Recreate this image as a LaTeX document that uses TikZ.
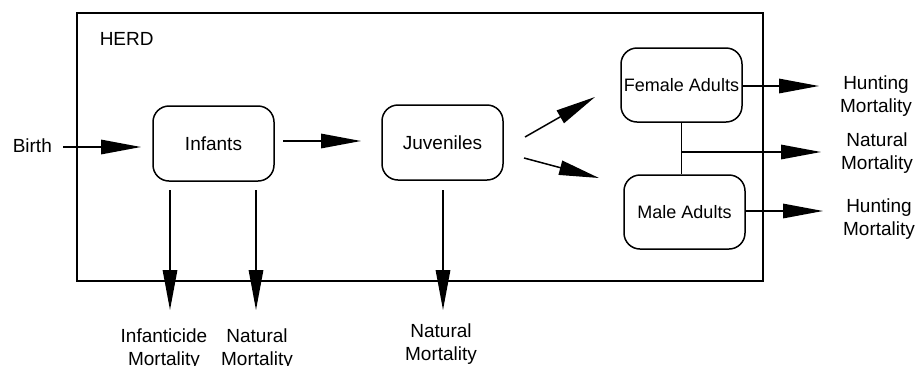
\documentclass[tikz,border=0pt]{standalone}
\usepackage{fontspec}
\setmainfont{Liberation Sans}
\usetikzlibrary{arrows.meta}
\begin{document}
\begin{tikzpicture}[x=1pt,y=-1pt,line width=1.5pt,
  box/.style={draw,rounded corners=16pt,minimum width=121pt,minimum height=75pt,inner sep=0pt,font=\fontsize{19}{22}\selectfont},
  abox/.style={box,minimum height=74pt,font=\fontsize{18}{22}\selectfont},
  lbl/.style={align=center,inner sep=0pt,anchor=north,font=\fontsize{19}{23}\selectfont},
  arr/.style={-{Triangle[length=40pt,width=14.5pt]}}]
\useasboundingbox (0,0) rectangle (917,365);
% herd frame
\draw (77,13) rectangle (763,281);
\node[inner sep=0pt,anchor=north west,font=\fontsize{19}{22}\selectfont] (herd) at (99,31.5) {HERD};
% compartments
\node[box] (infants) at (213.5,143.5) {Infants};
\node[box] (juveniles) at (442.5,142.5) {Juveniles};
\node[abox] (female) at (681.5,85) {Female Adults};
\node[abox] (male) at (684.5,212) {Male Adults};
% labels
\node[inner sep=0pt,anchor=north west,font=\fontsize{19}{22}\selectfont] (birth) at (12,137.5) {Birth};
\node[lbl] (infmort) at (164,327.5) {Infanticide\\Mortality};
\node[lbl] (natinf) at (257,327.5) {Natural\\Mortality};
\node[lbl] (natjuv) at (441,323) {Natural\\Mortality};
\node[lbl] (huntf) at (876,75) {Hunting\\Mortality};
\node[lbl] (natad) at (877,131.5) {Natural\\Mortality};
\node[lbl] (huntm) at (879,198) {Hunting\\Mortality};
% connector end points
\coordinate (b1) at (63,147);
\coordinate (b2) at (141,147);
\coordinate (ij1) at (283,141);
\coordinate (ij2) at (361,141);
\coordinate (d1s) at (170,190);
\coordinate (d1e) at (170,310);
\coordinate (d2s) at (256,190);
\coordinate (d2e) at (256,310);
\coordinate (d3s) at (443,190);
\coordinate (d3e) at (443,310);
\coordinate (u1s) at (525,137);
\coordinate (u1e) at (595,97);
\coordinate (u2s) at (524,158);
\coordinate (u2e) at (599,178);
\coordinate (fe) at (819,86);
\coordinate (me) at (823,211);
\coordinate (jn) at (female.south |- 0,152);
\coordinate (ne) at (821,152);
% connectors
\draw[arr] (b1) -- (b2);
\draw[arr] (ij1) -- (ij2);
\draw[arr] (d1s) -- (d1e);
\draw[arr] (d2s) -- (d2e);
\draw[arr] (d3s) -- (d3e);
\draw[arr] (u1s) -- (u1e);
\draw[arr] (u2s) -- (u2e);
\draw[arr] (female.east |- fe) -- (fe);
\draw[arr] (male.east |- me) -- (me);
\draw (female.south) -- (female.south |- male.north);
\draw[arr] (jn) -- (ne);
\end{tikzpicture}
\end{document}
